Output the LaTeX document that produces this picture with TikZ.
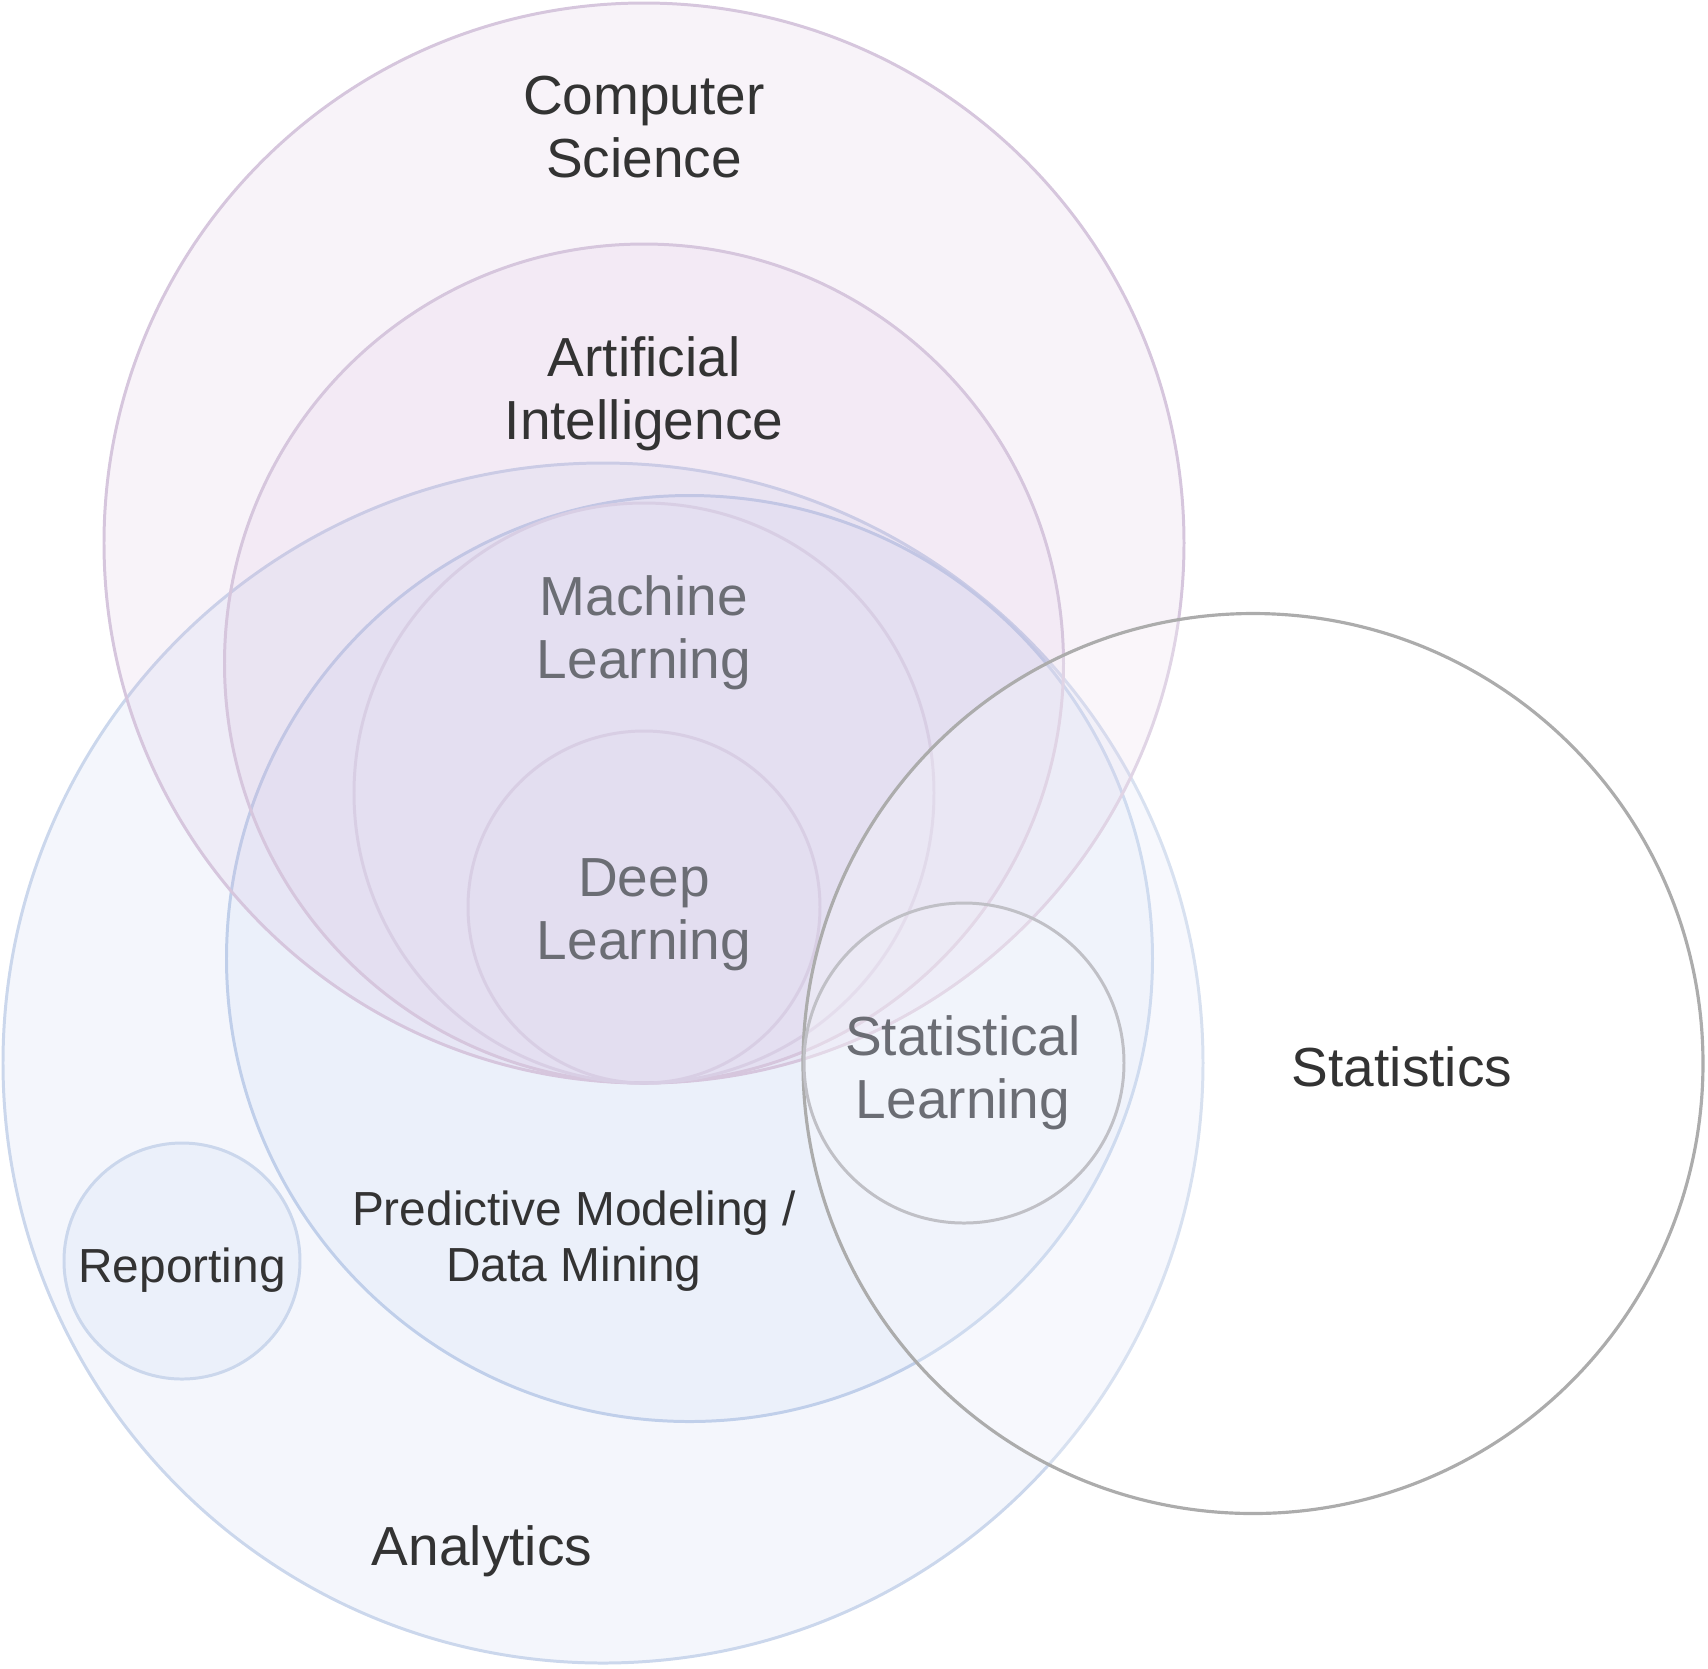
\documentclass[tikz,border=0pt]{standalone}
\usepackage{fontspec}
\setmainfont{Liberation Sans}
\definecolor{purpfill}{RGB}{205,172,214}
\definecolor{purpline}{RGB}{214,198,221}
\definecolor{mlline}{RGB}{216,206,228}
\definecolor{bluefill}{RGB}{192,207,240}
\definecolor{blueline}{RGB}{203,215,236}
\definecolor{predline}{RGB}{192,207,234}
\definecolor{statline}{RGB}{172,172,172}
\definecolor{slline}{RGB}{192,192,198}
\definecolor{txtdark}{RGB}{51,51,51}
\definecolor{txtgray}{RGB}{107,109,116}
\tikzset{
  ring/.style={line width=0.85pt},
  lbl/.style={font=\fontsize{15.65}{17.9}\selectfont, text=txtdark, align=center, inner sep=0pt, anchor=base},
  lblsmall/.style={lbl, font=\fontsize{13.6}{15.9}\selectfont},
  lblgray/.style={lbl, text=txtgray}
}

\begin{document}
\begin{tikzpicture}[x=0.01cm,y=-0.01cm]
  \useasboundingbox (0,0) rectangle (1708,1668);
  % analytics side
  \draw[ring, draw=blueline, fill=bluefill, fill opacity=0.18] (603,1063) circle [radius=600];
  \draw[ring, draw=predline, fill=bluefill, fill opacity=0.16] (689.5,958.5) circle [radius=463];
  \draw[ring, draw=blueline, fill=bluefill, fill opacity=0.16] (182,1261) circle [radius=118];
  % computer science side
  \draw[ring, draw=purpline, fill=purpfill, fill opacity=0.14] (644,543) circle [radius=540];
  \draw[ring, draw=purpline, fill=purpfill, fill opacity=0.12] (644,663.5) circle [radius=419.5];
  \draw[ring, draw=mlline] (644,793) circle [radius=290];
  \draw[ring, draw=mlline, fill=purpfill, fill opacity=0.02] (644,907) circle [radius=176];
  % statistics
  \draw[ring, line width=0.9pt, draw=statline, fill=white, fill opacity=0.25] (1253,1063.5) circle [radius=450];
  \draw[ring, draw=slline, fill=white, fill opacity=0.1] (964,1063) circle [radius=160];

  \node (cs) [lbl] at (644,177) {Computer\\Science};
  \node (ai) [lbl] at (644,439) {Artificial\\Intelligence};
  \node (ml) [lblgray] at (644,678) {Machine\\Learning};
  \node (dl) [lblgray] at (644,959) {Deep\\Learning};
  \node (sl) [lblgray] at (963,1118) {Statistical\\Learning};
  \node (stats) [lbl] at (1402,1086) {Statistics};
  \node (pm) [lblsmall] at (574,1281) {Predictive Modeling /\\Data Mining};
  \node (rep) [lblsmall] at (182,1282) {Reporting};
  \node (ana) [lbl] at (482,1565) {Analytics};
\end{tikzpicture}
\end{document}
